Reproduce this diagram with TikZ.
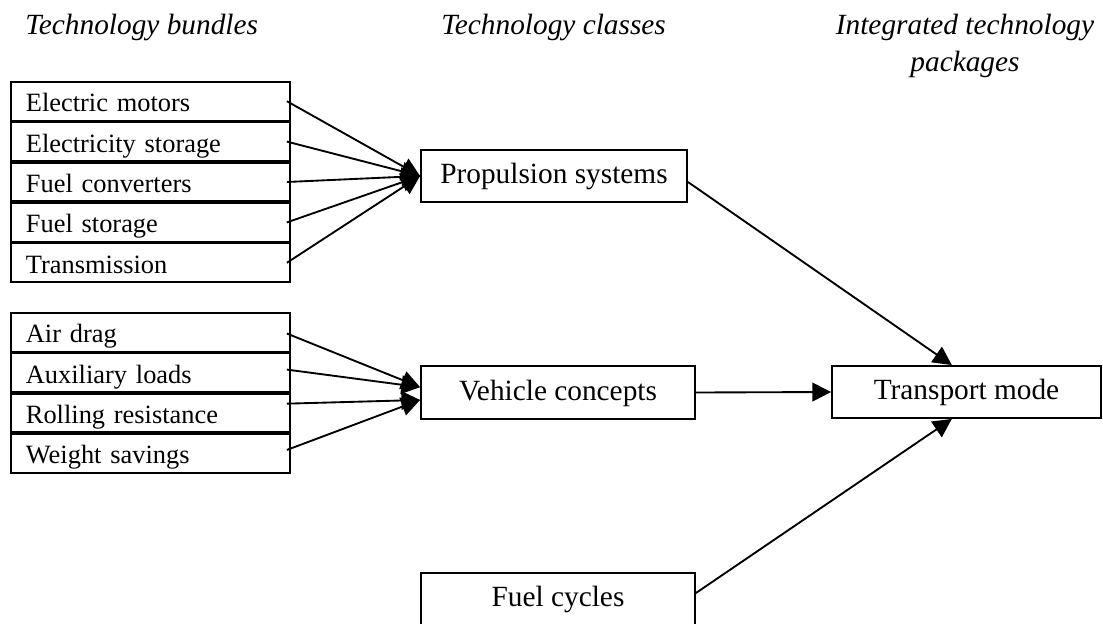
\documentclass[tikz,border=0pt]{standalone}
\usepackage{fontspec}
\setmainfont{Liberation Serif}
\usetikzlibrary{arrows.meta}
\begin{document}
\begin{tikzpicture}[x=0.75pt,y=-0.75pt,
  listrow/.style={draw, line width=1.4pt, minimum height=28.9pt, text width=186.75pt,
    inner xsep=11.25pt, inner ysep=0pt, align=left,
    font=\fontsize{19.8pt}{23pt}\selectfont, text height=15.8pt, text depth=0pt,
    anchor=north west},
  midbox/.style={draw, line width=1.4pt, inner sep=0pt,
    font=\fontsize{22pt}{26pt}\selectfont, text height=15pt, text depth=3.4pt},
  heading/.style={font=\fontsize{22pt}{27.75pt}\selectfont\itshape, inner sep=0pt},
  conn/.style={line width=1.4pt, -{Triangle[length=14pt,width=14pt]}}
]
\useasboundingbox (0,0) rectangle (1103,624);

% headings
\node[heading, anchor=base west] (h1) at (25,35) {Technology bundles};
\node[heading, anchor=base west] (h2) at (441,35) {Technology classes};
\node[heading, anchor=base, align=center] (h3) at (965,72) {Integrated technology\\packages};

% group 1
\node[listrow] (a1) at (10,81) {Electric motors};
\node[listrow] (a2) at (a1.south west) {Electricity storage};
\node[listrow] (a3) at (a2.south west) {Fuel converters};
\node[listrow] (a4) at (a3.south west) {Fuel storage};
\node[listrow] (a5) at (a4.south west) {Transmission};

% group 2
\node[listrow] (b1) at (10,312) {Air drag};
\node[listrow] (b2) at (b1.south west) {Auxiliary loads};
\node[listrow] (b3) at (b2.south west) {Rolling resistance};
\node[listrow] (b4) at (b3.south west) {Weight savings};

% middle and right boxes
\node[midbox, minimum width=199.5pt, minimum height=39pt] (prop) at (554,176) {Propulsion systems};
\node[midbox, minimum width=205.5pt, minimum height=39.75pt] (veh) at (558,392.5) {Vehicle concepts};
\node[midbox, minimum width=205.5pt, minimum height=39pt] (fuel) at (558,599) {Fuel cycles};
\node[midbox, minimum width=201.75pt, minimum height=39pt] (trans) at (966.5,392) {Transport mode};

% connectors group 1
\foreach \n in {a1,a2,a3,a4,a5}
  \draw[conn] ([xshift=-3pt]\n.east) -- (prop.west);

% connectors group 2
\draw[conn] ([xshift=-3pt,yshift=-1pt]b1.east) -- ([yshift=4pt]veh.west);
\draw[conn] ([xshift=-3pt,yshift=2.25pt]b2.east) -- ([yshift=4pt]veh.west);
\draw[conn] ([xshift=-3pt,yshift=7pt]b3.east) -- ([yshift=-5.6pt]veh.west);
\draw[conn] ([xshift=-3pt,yshift=2.6pt]b4.east) -- ([yshift=-5.6pt]veh.west);

% to transport mode
\draw[conn] ([yshift=-4.5pt]prop.east) -- ([xshift=-11pt]trans.north);
\draw[conn] (veh.east) -- (trans.west);
\draw[conn] ([yshift=4.5pt]fuel.east) -- ([xshift=-11pt]trans.south);
\end{tikzpicture}
\end{document}
